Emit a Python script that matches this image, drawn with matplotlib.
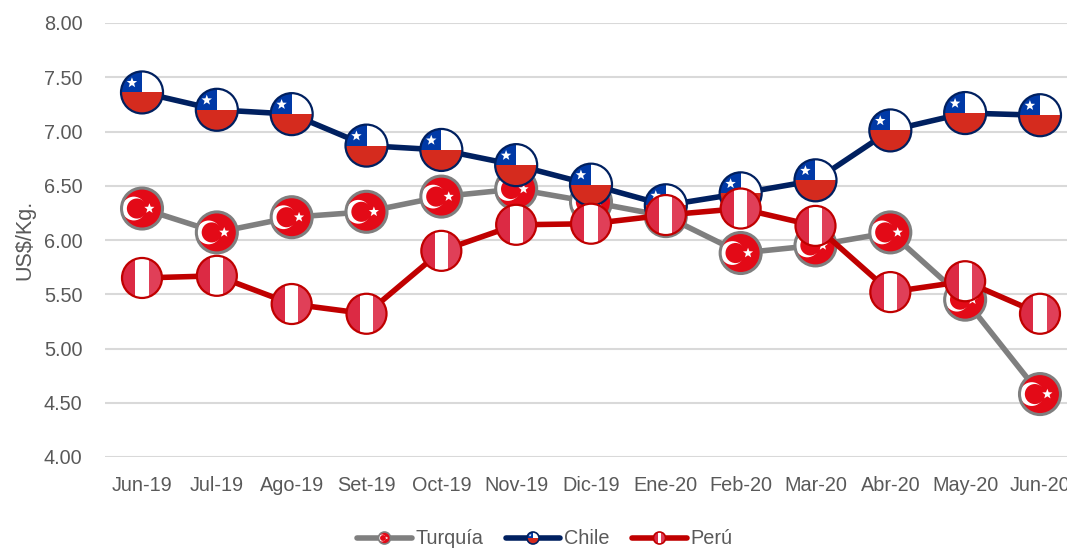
import matplotlib
matplotlib.use('Agg')
import matplotlib.pyplot as plt
from matplotlib.lines import Line2D
from matplotlib.patches import Circle, PathPatch, Rectangle
from matplotlib.path import Path
from matplotlib.transforms import Affine2D, IdentityTransform, ScaledTranslation

plt.rcParams['font.family'] = ['Liberation Sans', 'DejaVu Sans']

months = ['Jun-19', 'Jul-19', 'Ago-19', 'Set-19', 'Oct-19', 'Nov-19', 'Dic-19',
          'Ene-20', 'Feb-20', 'Mar-20', 'Abr-20', 'May-20', 'Jun-20']
turquia = [6.29, 6.07, 6.21, 6.26, 6.40, 6.47, 6.35, 6.22, 5.88, 5.95, 6.07, 5.45, 4.58]
chile = [7.36, 7.20, 7.16, 6.87, 6.83, 6.69, 6.51, 6.32, 6.43, 6.55, 7.01, 7.17, 7.15]
peru = [5.65, 5.67, 5.41, 5.32, 5.90, 6.14, 6.15, 6.23, 6.29, 6.13, 5.52, 5.62, 5.32]
y_ticks = [4.0, 4.5, 5.0, 5.5, 6.0, 6.5, 7.0, 7.5, 8.0]

GRAY = '#7f7f7f'
NAVY = '#002060'
DARK_RED = '#c00000'
TEXT = '#595959'
FS = 14.3
W, H = 1067, 548


def star(cx, cy, size, base, color='white'):
    tr = Affine2D().scale(size).translate(cx, cy) + base
    return PathPatch(Path.unit_regular_star(5, 0.42), transform=tr, fc=color, ec='none')


def flag_parts(kind, base):
    # todas las formas en un circulo unitario
    if kind == 'turquia':
        return [Rectangle((-1, -1), 2, 2, transform=base, fc='#e30a17', ec='none'),
                Circle((-0.40, 0), 0.58, transform=base, fc='white', ec='none'),
                Circle((-0.25, 0), 0.49, transform=base, fc='#e30a17', ec='none'),
                star(0.36, 0, 0.26, base)]
    if kind == 'chile':
        return [Rectangle((-1, -1), 2, 1, transform=base, fc='#d52b1e', ec='none'),
                Rectangle((0, 0), 1, 1, transform=base, fc='white', ec='none'),
                Rectangle((-1, 0), 1, 1, transform=base, fc='#0039a6', ec='none'),
                star(-0.48, 0.46, 0.26, base)]
    return [Rectangle((-1, -1), 1, 2, transform=base, fc='#dc2a44', ec='none'),
            Rectangle((0, -1), 1, 2, transform=base, fc='#e03f58', ec='none'),
            Rectangle((-0.33, -1), 0.66, 2, transform=base, fc='white', ec='none')]


def draw_flag(container, kind, offset, radius, edge, lw, zorder):
    base = Affine2D().scale(radius) + offset
    clip = Circle((0, 0), 1, transform=base, fc='none', ec='none')
    for part in flag_parts(kind, base):
        part.set_zorder(zorder)
        part.set_clip_path(clip)
        container.add_artist(part)
    container.add_artist(Circle((0, 0), 1, transform=base, fc='none', ec=edge,
                                lw=lw, zorder=zorder + 0.1))


fig = plt.figure(figsize=(W / 100, H / 100), dpi=100)
left, right, top, bottom = 104.6, 1077.4, 23, 457
ax = fig.add_axes([left / W, 1 - bottom / H, (right - left) / W, (bottom - top) / H])
ax.set_xlim(-0.5, 12.5)
ax.set_ylim(4, 8)
ax.patch.set_visible(False)
for s in ax.spines.values():
    s.set_visible(False)
ax.grid(True, axis='y', color='#d9d9d9', lw=1.5, zorder=0)
ax.set_axisbelow(True)
ax.set_yticks(y_ticks)
ax.set_yticklabels([f'{v:.2f}' for v in y_ticks])
ax.set_xticks(range(len(months)))
ax.set_xticklabels(months)
ax.tick_params(length=0, labelsize=FS, labelcolor=TEXT)
ax.tick_params(axis='x', pad=14)
ax.tick_params(axis='y', pad=16)
fig.text(25 / W, 1 - 240 / H, 'US$/Kg.', rotation=90, ha='center', va='center',
         fontsize=15.6, color=TEXT)

series = [('turquia', turquia, GRAY, 20.5, 2.2), ('chile', chile, NAVY, 21, 1.6),
          ('peru', peru, DARK_RED, 20, 1.6)]
for i, (kind, values, color, radius, edge_w) in enumerate(series):
    z = 3 + i
    ax.plot(range(len(values)), values, color=color, lw=4, zorder=z, clip_on=False)
    for x, y in enumerate(values):
        offset = ScaledTranslation(x, y, ax.transData)
        draw_flag(ax, kind, offset, radius, color, edge_w, z + 0.01 * x)

# leyenda a mano, las banderas no caben en los handles normales
legend_items = [('turquia', 'Turquía', GRAY, 357, 412, 416),
                ('chile', 'Chile', NAVY, 506, 560, 564),
                ('peru', 'Perú', DARK_RED, 632, 687, 690)]
for kind, label, color, x0, x1, xt in legend_items:
    y = H - 538
    fig.add_artist(Line2D([x0, x1], [y, y], color=color, lw=4, solid_capstyle='round',
                          transform=IdentityTransform()))
    offset = Affine2D().translate((x0 + x1) / 2, y)
    draw_flag(fig, kind, offset, 6, color, 1.2, 5)
    fig.text(xt / W, y / H, label, ha='left', va='center', fontsize=FS, color=TEXT)

fig.savefig('out.png', dpi=100)
